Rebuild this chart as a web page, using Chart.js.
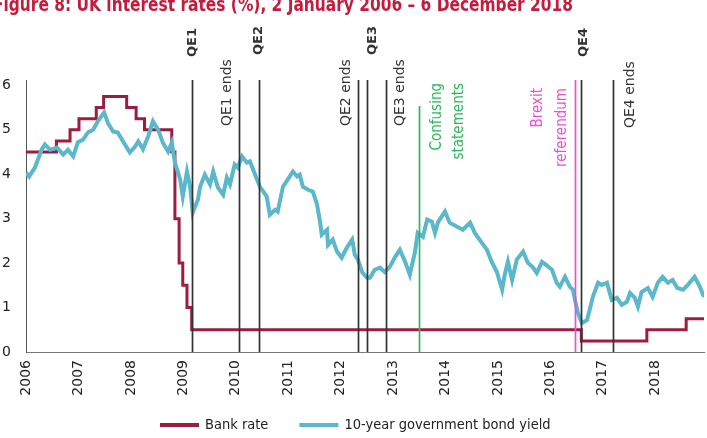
<!DOCTYPE html>
<html>
<head>
<meta charset="utf-8">
<script src="https://cdn.jsdelivr.net/npm/chart.js@4.4.1/dist/chart.umd.min.js"></script>
<style>
  html, body { margin: 0; padding: 0; background: #fff; overflow: hidden; }
</style>
</head>
<body>
<canvas id="rates" width="707" height="438"></canvas>
<script>
const titleText = 'Figure 8: UK interest rates (%), 2 January 2006 – 6 December 2018';

const yearTicks = [2006, 2007, 2008, 2009, 2010, 2011, 2012, 2013, 2014, 2015, 2016, 2017, 2018];
const rateTicks = [0, 1, 2, 3, 4, 5, 6];

// bank rate: date of each change and the new rate
const bankYears = [2006.00, 2006.58, 2006.84, 2007.01, 2007.34, 2007.48, 2007.92, 2008.10, 2008.26,
                   2008.78, 2008.84, 2008.92, 2008.99, 2009.07, 2009.16, 2016.59, 2017.84, 2018.59, 2018.93];
const bankRate  = [4.5, 4.75, 5.0, 5.25, 5.5, 5.75, 5.5, 5.25, 5.0,
                   4.5, 3.0, 2.0, 1.5, 1.0, 0.5, 0.25, 0.5, 0.75, 0.75];

// 10-year gilt yield
const yieldYears = [
  2006.00, 2006.06, 2006.17, 2006.30, 2006.36, 2006.46, 2006.59, 2006.71, 2006.80, 2006.90,
  2006.99, 2007.09, 2007.18, 2007.28, 2007.37, 2007.49, 2007.56, 2007.66, 2007.75, 2007.85,
  2007.98, 2008.08, 2008.14, 2008.23, 2008.33, 2008.42, 2008.52, 2008.61, 2008.71, 2008.78,
  2008.84, 2008.94, 2008.99, 2009.07, 2009.13, 2009.18, 2009.28, 2009.32, 2009.41, 2009.51,
  2009.57, 2009.66, 2009.76, 2009.83, 2009.89, 2009.98, 2010.04, 2010.12, 2010.21, 2010.27,
  2010.37, 2010.46, 2010.59, 2010.65, 2010.75, 2010.80, 2010.90, 2010.99, 2011.09, 2011.17,
  2011.22, 2011.28, 2011.38, 2011.47, 2011.55, 2011.61, 2011.64, 2011.74, 2011.76, 2011.85,
  2011.93, 2012.02, 2012.12, 2012.22, 2012.27, 2012.33, 2012.41, 2012.50, 2012.56, 2012.65,
  2012.75, 2012.84, 2012.94, 2013.04, 2013.13, 2013.23, 2013.32, 2013.42, 2013.47, 2013.57,
  2013.65, 2013.74, 2013.80, 2013.86, 2013.99, 2014.08, 2014.22, 2014.33, 2014.47, 2014.56,
  2014.69, 2014.79, 2014.88, 2014.98, 2015.08, 2015.13, 2015.19, 2015.27, 2015.36, 2015.48,
  2015.57, 2015.67, 2015.74, 2015.84, 2015.93, 2016.03, 2016.12, 2016.18, 2016.28, 2016.37,
  2016.43, 2016.47, 2016.52, 2016.60, 2016.70, 2016.75, 2016.81, 2016.91, 2016.98, 2017.08,
  2017.17, 2017.27, 2017.36, 2017.46, 2017.52, 2017.61, 2017.67, 2017.74, 2017.86, 2017.95,
  2018.05, 2018.14, 2018.24, 2018.33, 2018.42, 2018.53, 2018.62, 2018.75, 2018.85, 2018.93
];
const yieldValues = [
  4.04, 3.95, 4.15, 4.56, 4.67, 4.55, 4.60, 4.44, 4.55, 4.40,
  4.72, 4.78, 4.94, 5.00, 5.19, 5.39, 5.16, 4.96, 4.94, 4.74,
  4.49, 4.62, 4.74, 4.56, 4.85, 5.19, 5.00, 4.71, 4.51, 4.71,
  4.26, 3.88, 3.50, 4.06, 3.72, 3.14, 3.43, 3.72, 3.99, 3.77,
  4.06, 3.70, 3.54, 3.92, 3.77, 4.22, 4.15, 4.40, 4.26, 4.29,
  3.99, 3.72, 3.50, 3.09, 3.20, 3.16, 3.72, 3.88, 4.06, 3.95,
  3.99, 3.72, 3.65, 3.61, 3.32, 2.91, 2.64, 2.75, 2.41, 2.53,
  2.26, 2.12, 2.35, 2.53, 2.19, 2.08, 1.80, 1.67, 1.67, 1.85,
  1.90, 1.80, 1.92, 2.14, 2.30, 2.03, 1.74, 2.26, 2.68, 2.59,
  2.98, 2.93, 2.68, 2.93, 3.16, 2.91, 2.82, 2.75, 2.91, 2.68,
  2.46, 2.30, 2.03, 1.80, 1.40, 1.74, 2.03, 1.62, 2.08, 2.26,
  2.01, 1.90, 1.78, 2.03, 1.95, 1.85, 1.56, 1.47, 1.69, 1.47,
  1.40, 1.17, 0.90, 0.65, 0.72, 0.95, 1.24, 1.56, 1.51, 1.56,
  1.17, 1.22, 1.06, 1.13, 1.33, 1.22, 1.02, 1.35, 1.44, 1.24,
  1.56, 1.69, 1.56, 1.62, 1.44, 1.40, 1.51, 1.69, 1.47, 1.24
];

// events marked with vertical lines
const eventYears = [2009.16, 2010.07, 2010.45, 2012.34, 2012.51, 2012.86, 2013.49, 2016.47, 2016.59, 2017.20];
const eventNames = ['QE1', 'QE1 ends', 'QE2', 'QE2 ends', 'QE3', 'QE3 ends',
                    'Confusing statements', 'Brexit referendum', 'QE4', 'QE4 ends'];

const toPoints = (xs, ys) => xs.map((x, i) => ({ x, y: ys[i] }));

const black = '#333';
const qeBold = 'bold 13px "DejaVu Sans"';
const qeEnd = '14px "DejaVu Sans"';
const note = '15px "DejaVu Sans Condensed"';
// look of each event marker: line colour/top, label anchor and offsets
const eventStyles = [
  { color: black, font: qeBold, y: 57, align: 'left', dx: [0] },
  { color: black, font: qeEnd, y: 126, align: 'left', dx: [-12] },
  { color: black, font: qeBold, y: 55, align: 'left', dx: [-1] },
  { color: black, font: qeEnd, y: 126, align: 'left', dx: [-12] },
  { color: black, font: qeBold, y: 55, align: 'left', dx: [5] },
  { color: black, font: qeEnd, y: 126, align: 'left', dx: [14] },
  { color: '#2cb85e', font: note, y: 83, align: 'right', dx: [18, 40], split: true, top: 106 },
  { color: '#ee4fd0', font: note, y: 88, align: 'right', dx: [-37, -13], split: true },
  { color: black, font: qeBold, y: 57, align: 'left', dx: [2] },
  { color: black, font: qeEnd, y: 128, align: 'left', dx: [17] }
];

const eventMarkers = {
  id: 'eventMarkers',
  afterDatasetsDraw(chart) {
    const { ctx, chartArea, scales: { x } } = chart;
    eventYears.forEach((yr, i) => {
      const s = eventStyles[i];
      const px = Math.round(x.getPixelForValue(yr)) + 0.5;
      ctx.save();
      ctx.strokeStyle = s.color;
      ctx.lineWidth = 1.7;
      ctx.beginPath();
      ctx.moveTo(px, s.top || chartArea.top);
      ctx.lineTo(px, chartArea.bottom);
      ctx.stroke();
      const lines = s.split ? eventNames[i].split(' ') : [eventNames[i]];
      ctx.fillStyle = s.color;
      ctx.font = s.font;
      ctx.textBaseline = 'middle';
      ctx.textAlign = s.align;
      lines.forEach((t, j) => {
        ctx.save();
        ctx.translate(px + s.dx[j], s.y);
        ctx.rotate(-Math.PI / 2);
        ctx.fillText(t, 0, 0);
        ctx.restore();
      });
      ctx.restore();
    });
  }
};

const cutTitle = {
  id: 'cutTitle',
  afterDraw(chart) {
    const ctx = chart.ctx;
    ctx.save();
    ctx.font = 'bold 20px "DejaVu Sans Condensed"';
    ctx.fillStyle = '#c21c3e';
    ctx.textBaseline = 'alphabetic';
    const w = ctx.measureText(titleText).width;
    ctx.translate(-7, 11);
    ctx.scale(580 / w, 1);
    ctx.fillText(titleText, 0, 0);
    ctx.restore();
  }
};

// legend row under the axis labels: line swatch, then the series name
const bottomLegend = {
  id: 'bottomLegend',
  afterDraw(chart) {
    const ctx = chart.ctx;
    ctx.save();
    ctx.font = '14.5px "DejaVu Sans Condensed"';
    ctx.textBaseline = 'middle';
    ctx.textAlign = 'left';
    const items = chart.data.datasets.map(d => ({
      text: d.label, color: d.borderColor, w: 45 + ctx.measureText(d.label).width
    }));
    const total = items.reduce((s, it) => s + it.w, 0) + 31 * (items.length - 1);
    let x = Math.round(355 - total / 2);
    items.forEach(it => {
      ctx.fillStyle = it.color;
      ctx.fillRect(x, 423, 39, 4);
      ctx.fillStyle = '#222';
      ctx.fillText(it.text, x + 45, 425);
      x += it.w + 31;
    });
    ctx.restore();
  }
};

new Chart(document.getElementById('rates'), {
  type: 'line',
  data: {
    datasets: [{
      label: 'Bank rate',
      data: toPoints(bankYears, bankRate),
      borderColor: '#9c1d40',
      backgroundColor: '#9c1d40',
      borderWidth: 3,
      stepped: true,
      pointRadius: 0,
      order: 1
    }, {
      label: '10-year government bond yield',
      data: toPoints(yieldYears, yieldValues),
      borderColor: '#5bb7ca',
      backgroundColor: '#5bb7ca',
      borderWidth: 4,
      pointRadius: 0,
      order: 0
    }]
  },
  options: {
    responsive: false,
    animation: false,
    devicePixelRatio: 1,
    layout: { padding: { top: 80, left: 0, right: 3, bottom: 0 } },
    scales: {
      x: {
        type: 'linear',
        min: 2006,
        max: 2018.93,
        grid: { display: false, drawTicks: false },
        border: { color: '#777', width: 1 },
        afterBuildTicks: s => { s.ticks = yearTicks.map(v => ({ value: v })); },
        afterFit: s => { s.height = 86; },
        ticks: {
          minRotation: 90, maxRotation: 90, autoSkip: false, padding: 8,
          color: '#222', font: { family: 'DejaVu Sans', size: 14 },
          callback: v => String(v)
        }
      },
      y: {
        min: 0,
        max: 6.12,
        grid: { display: false, drawTicks: false },
        border: { color: '#555', width: 1 },
        afterBuildTicks: s => { s.ticks = rateTicks.map(v => ({ value: v })); },
        afterFit: s => { s.width = 26; },
        ticks: { padding: 15, color: '#222', font: { family: 'DejaVu Sans', size: 14 } }
      }
    },
    plugins: {
      legend: { display: false },
      tooltip: { enabled: false }
    }
  },
  plugins: [cutTitle, eventMarkers, bottomLegend]
});
</script>
</body>
</html>
